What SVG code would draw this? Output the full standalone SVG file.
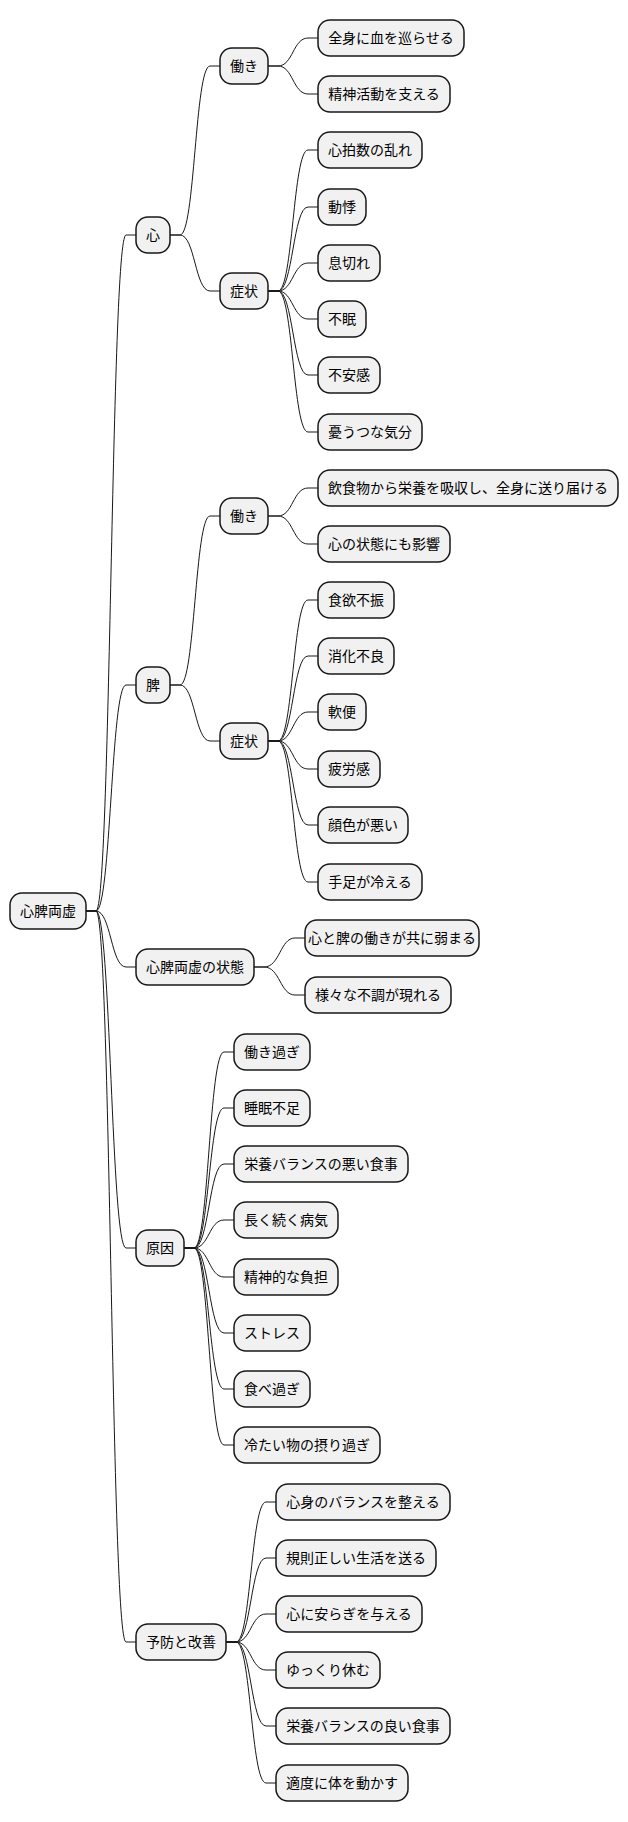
<svg xmlns="http://www.w3.org/2000/svg" width="628" height="1822" viewBox="0 0 628 1822">
<style>
rect{fill:#f1f1f1;stroke:#181818;stroke-width:1.5}
text{font-family:"Noto Sans CJK JP","Noto Sans",sans-serif;font-size:14px;fill:#000;text-anchor:middle}
#edges path{fill:none;stroke:#181818;stroke-width:1}
</style>
<rect width="628" height="1822" style="fill:#fff;stroke:none"/>
<g id="edges">
<path d="M86 911H96C111 911 111 235 126 235H136"/>
<path d="M86 911H96C111 911 111 685 126 685H136"/>
<path d="M86 911H96C111 911 111 967 126 967H136"/>
<path d="M86 911H96C111 911 111 1248 126 1248H136"/>
<path d="M86 911H96C111 911 111 1642 126 1642H136"/>
<path d="M170 235H180C195 235 195 66 210 66H220"/>
<path d="M170 235H180C195 235 195 291 210 291H220"/>
<path d="M268 66H278C293 66 293 38 308 38H318"/>
<path d="M268 66H278C293 66 293 94 308 94H318"/>
<path d="M268 291H278C293 291 293 150 308 150H318"/>
<path d="M268 291H278C293 291 293 207 308 207H318"/>
<path d="M268 291H278C293 291 293 263 308 263H318"/>
<path d="M268 291H278C293 291 293 319 308 319H318"/>
<path d="M268 291H278C293 291 293 375 308 375H318"/>
<path d="M268 291H278C293 291 293 432 308 432H318"/>
<path d="M170 685H180C195 685 195 516 210 516H220"/>
<path d="M170 685H180C195 685 195 741 210 741H220"/>
<path d="M268 516H278C293 516 293 488 308 488H318"/>
<path d="M268 516H278C293 516 293 544 308 544H318"/>
<path d="M268 741H278C293 741 293 600 308 600H318"/>
<path d="M268 741H278C293 741 293 656 308 656H318"/>
<path d="M268 741H278C293 741 293 712 308 712H318"/>
<path d="M268 741H278C293 741 293 769 308 769H318"/>
<path d="M268 741H278C293 741 293 825 308 825H318"/>
<path d="M268 741H278C293 741 293 882 308 882H318"/>
<path d="M254 967H264C280 967 280 938 295 938H305"/>
<path d="M254 967H264C280 967 280 995 295 995H305"/>
<path d="M184 1248H194C209 1248 209 1052 224 1052H234"/>
<path d="M184 1248H194C209 1248 209 1108 224 1108H234"/>
<path d="M184 1248H194C209 1248 209 1164 224 1164H234"/>
<path d="M184 1248H194C209 1248 209 1220 224 1220H234"/>
<path d="M184 1248H194C209 1248 209 1277 224 1277H234"/>
<path d="M184 1248H194C209 1248 209 1333 224 1333H234"/>
<path d="M184 1248H194C209 1248 209 1389 224 1389H234"/>
<path d="M184 1248H194C209 1248 209 1445 224 1445H234"/>
<path d="M226 1642H236C251 1642 251 1502 266 1502H276"/>
<path d="M226 1642H236C251 1642 251 1558 266 1558H276"/>
<path d="M226 1642H236C251 1642 251 1614 266 1614H276"/>
<path d="M226 1642H236C251 1642 251 1670 266 1670H276"/>
<path d="M226 1642H236C251 1642 251 1726 266 1726H276"/>
<path d="M226 1642H236C251 1642 251 1783 266 1783H276"/>
</g>
<g id="n-root"><rect x="10" y="893" width="76" height="36" rx="12"/><text x="48" y="916">心脾両虚</text></g>
<g id="n-shin"><rect x="136" y="217" width="34" height="36" rx="12"/><text x="153" y="240">心</text></g>
<g id="n-hi"><rect x="136" y="667" width="34" height="36" rx="12"/><text x="153" y="690">脾</text></g>
<g id="n-state"><rect x="136" y="949" width="118" height="36" rx="12"/><text x="195" y="972">心脾両虚の状態</text></g>
<g id="n-cause"><rect x="136" y="1230" width="48" height="36" rx="12"/><text x="160" y="1253">原因</text></g>
<g id="n-prev"><rect x="136" y="1624" width="90" height="36" rx="12"/><text x="181" y="1647">予防と改善</text></g>
<g id="n-shin-func"><rect x="220" y="48" width="48" height="36" rx="12"/><text x="244" y="71">働き</text></g>
<g id="n-shin-sym"><rect x="220" y="273" width="48" height="36" rx="12"/><text x="244" y="296">症状</text></g>
<g id="n-hi-func"><rect x="220" y="498" width="48" height="36" rx="12"/><text x="244" y="521">働き</text></g>
<g id="n-hi-sym"><rect x="220" y="723" width="48" height="36" rx="12"/><text x="244" y="746">症状</text></g>
<g id="n1"><rect x="318" y="20" width="146" height="36" rx="12"/><text x="391" y="43">全身に血を巡らせる</text></g>
<g id="n2"><rect x="318" y="76" width="132" height="36" rx="12"/><text x="384" y="99">精神活動を支える</text></g>
<g id="n3"><rect x="318" y="132" width="104" height="36" rx="12"/><text x="370" y="155">心拍数の乱れ</text></g>
<g id="n4"><rect x="318" y="189" width="48" height="36" rx="12"/><text x="342" y="212">動悸</text></g>
<g id="n5"><rect x="318" y="245" width="62" height="36" rx="12"/><text x="349" y="268">息切れ</text></g>
<g id="n6"><rect x="318" y="301" width="48" height="36" rx="12"/><text x="342" y="324">不眠</text></g>
<g id="n7"><rect x="318" y="357" width="62" height="36" rx="12"/><text x="349" y="380">不安感</text></g>
<g id="n8"><rect x="318" y="414" width="104" height="36" rx="12"/><text x="370" y="437">憂うつな気分</text></g>
<g id="n9"><rect x="318" y="470" width="300" height="36" rx="12"/><text x="468" y="493">飲食物から栄養を吸収し、全身に送り届ける</text></g>
<g id="n10"><rect x="318" y="526" width="132" height="36" rx="12"/><text x="384" y="549">心の状態にも影響</text></g>
<g id="n11"><rect x="318" y="582" width="76" height="36" rx="12"/><text x="356" y="605">食欲不振</text></g>
<g id="n12"><rect x="318" y="638" width="76" height="36" rx="12"/><text x="356" y="661">消化不良</text></g>
<g id="n13"><rect x="318" y="694" width="48" height="36" rx="12"/><text x="342" y="717">軟便</text></g>
<g id="n14"><rect x="318" y="751" width="62" height="36" rx="12"/><text x="349" y="774">疲労感</text></g>
<g id="n15"><rect x="318" y="807" width="90" height="36" rx="12"/><text x="363" y="830">顔色が悪い</text></g>
<g id="n16"><rect x="318" y="864" width="104" height="36" rx="12"/><text x="370" y="887">手足が冷える</text></g>
<g id="n17"><rect x="305" y="920" width="174" height="36" rx="12"/><text x="392" y="943">心と脾の働きが共に弱まる</text></g>
<g id="n18"><rect x="305" y="977" width="146" height="36" rx="12"/><text x="378" y="1000">様々な不調が現れる</text></g>
<g id="n19"><rect x="234" y="1034" width="76" height="36" rx="12"/><text x="272" y="1057">働き過ぎ</text></g>
<g id="n20"><rect x="234" y="1090" width="76" height="36" rx="12"/><text x="272" y="1113">睡眠不足</text></g>
<g id="n21"><rect x="234" y="1146" width="174" height="36" rx="12"/><text x="321" y="1169">栄養バランスの悪い食事</text></g>
<g id="n22"><rect x="234" y="1202" width="104" height="36" rx="12"/><text x="286" y="1225">長く続く病気</text></g>
<g id="n23"><rect x="234" y="1259" width="104" height="36" rx="12"/><text x="286" y="1282">精神的な負担</text></g>
<g id="n24"><rect x="234" y="1315" width="76" height="36" rx="12"/><text x="272" y="1338">ストレス</text></g>
<g id="n25"><rect x="234" y="1371" width="76" height="36" rx="12"/><text x="272" y="1394">食べ過ぎ</text></g>
<g id="n26"><rect x="234" y="1427" width="146" height="36" rx="12"/><text x="307" y="1450">冷たい物の摂り過ぎ</text></g>
<g id="n27"><rect x="276" y="1484" width="174" height="36" rx="12"/><text x="363" y="1507">心身のバランスを整える</text></g>
<g id="n28"><rect x="276" y="1540" width="160" height="36" rx="12"/><text x="356" y="1563">規則正しい生活を送る</text></g>
<g id="n29"><rect x="276" y="1596" width="146" height="36" rx="12"/><text x="349" y="1619">心に安らぎを与える</text></g>
<g id="n30"><rect x="276" y="1652" width="104" height="36" rx="12"/><text x="328" y="1675">ゆっくり休む</text></g>
<g id="n31"><rect x="276" y="1708" width="174" height="36" rx="12"/><text x="363" y="1731">栄養バランスの良い食事</text></g>
<g id="n32"><rect x="276" y="1765" width="132" height="36" rx="12"/><text x="342" y="1788">適度に体を動かす</text></g>
</svg>
